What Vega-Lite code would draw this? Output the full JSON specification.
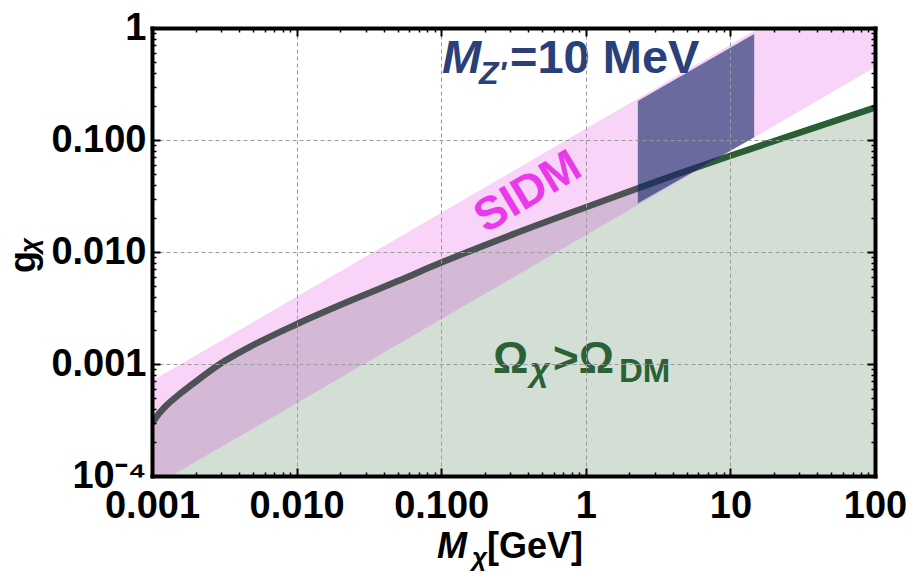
{
  "$schema": "https://vega.github.io/schema/vega-lite/v6.json",
  "width": 723,
  "height": 448,
  "autosize": {"type": "none"},
  "padding": {"left": 152, "top": 28, "right": 34, "bottom": 96},
  "background": "white",
  "datasets": {
    "relic": [
      {"x": 0.001, "y": 0.000295},
      {"x": 0.001122, "y": 0.000363},
      {"x": 0.001259, "y": 0.000427},
      {"x": 0.001585, "y": 0.00055},
      {"x": 0.001995, "y": 0.000692},
      {"x": 0.002951, "y": 0.001},
      {"x": 0.004786, "y": 0.001429},
      {"x": 0.01, "y": 0.002265},
      {"x": 0.02512, "y": 0.0038},
      {"x": 0.05012, "y": 0.0055},
      {"x": 0.1, "y": 0.00804},
      {"x": 0.3162, "y": 0.01445},
      {"x": 1, "y": 0.0251},
      {"x": 2.323, "y": 0.0373},
      {"x": 3.981, "y": 0.0479},
      {"x": 10, "y": 0.0724},
      {"x": 31.62, "y": 0.1189},
      {"x": 100, "y": 0.195}
    ],
    "sidm": [
      {"x": 0.001, "lo": 0.0000794, "hi": 0.000708},
      {"x": 100, "lo": 0.447, "hi": 3.98}
    ],
    "zprime": [
      {"x": 2.29, "lo": 0.0272, "hi": 0.223},
      {"x": 14.6, "lo": 0.1057, "hi": 0.884}
    ],
    "lblM": [{"x": 0.1013, "y": 0.396, "t": "M"}],
    "lblZ": [{"x": 0.1825, "y": 0.316, "t": "Z'"}],
    "lblMeV": [{"x": 0.299, "y": 0.396, "t": "=10 MeV"}],
    "lblSIDM": [{"x": 0.398, "y": 0.0343, "t": "SIDM"}],
    "lblOmega": [{"x": 0.2281, "y": 0.000831, "t": "Ω"}, {"x": 0.593, "y": 0.000831, "t": ">Ω"}],
    "lblChi": [{"x": 0.411, "y": 0.000705, "t": "χ"}],
    "lblDM": [{"x": 1.697, "y": 0.00069, "t": "DM"}],
    "xtM": [{"x": 0.0935, "y": 0.00001853, "t": "M"}],
    "xtChi": [{"x": 0.1633, "y": 0.0000157, "t": "χ"}],
    "xtGeV": [{"x": 0.2075, "y": 0.00001853, "t": "[GeV]"}],
    "ytG": [{"x": 0.0001552, "y": 0.00649, "t": "g"}],
    "ytChi": [{"x": 0.000163, "y": 0.0098, "t": "χ"}]
  },
  "layer": [
    {
      "data": {"name": "relic"},
      "mark": {"type": "area", "color": "#d3ded5", "clip": true},
      "encoding": {
        "x": {"field": "x", "type": "quantitative", "scale": {"type": "log", "domain": [0.001, 100]},
          "axis": {"orient": "bottom", "values": [0.001, 0.01, 0.1, 1, 10, 100],
            "labelExpr": "datum.value < 0.0015 ? '0.001' : datum.value < 0.015 ? '0.010' : datum.value < 0.15 ? '0.100' : datum.value < 1.5 ? '1' : datum.value < 15 ? '10' : '100'",
            "labelFont": "Liberation Sans", "labelFontSize": 38, "labelFontWeight": "bold", "labelColor": "black",
            "labelPadding": 19, "labelOverlap": false, "labelFlush": false, "labelBound": false,
            "tickSize": -8, "tickWidth": 2, "tickColor": "black",
            "domain": true, "domainColor": "black", "domainWidth": 4, "domainCap": "square",
            "grid": true, "gridColor": "#9a9a9a", "gridDash": [4, 3], "gridWidth": 1,
            "title": null, "zindex": 1}},
        "y": {"field": "y", "type": "quantitative", "scale": {"type": "log", "domain": [0.0001, 1]},
          "axis": {"orient": "left", "values": [0.0001, 0.001, 0.01, 0.1, 1],
            "labelExpr": "datum.value < 0.00015 ? '10⁻⁴' : datum.value < 0.0015 ? '0.001' : datum.value < 0.015 ? '0.010' : datum.value < 0.15 ? '0.100' : '1'",
            "labelFont": "Liberation Sans", "labelFontSize": 38, "labelFontWeight": "bold", "labelColor": "black",
            "labelPadding": 14, "labelOverlap": false, "labelFlush": false, "labelBound": false,
            "tickSize": -8, "tickWidth": 2, "tickColor": "black",
            "domain": true, "domainColor": "black", "domainWidth": 4, "domainCap": "square",
            "grid": true, "gridColor": "#9a9a9a", "gridDash": [4, 3], "gridWidth": 1,
            "title": null, "zindex": 1}},
        "y2": {"datum": 0.0001}
      }
    },
    {
      "data": {"name": "relic"},
      "mark": {"type": "line", "color": "#2a5e34", "strokeWidth": 6.5, "clip": true, "interpolate": "monotone"},
      "encoding": {
        "x": {"field": "x", "type": "quantitative", "scale": {"type": "log", "domain": [0.001, 100]},
          "axis": {"orient": "top", "values": [0.001, 0.01, 0.1, 1, 10, 100], "labels": false,
            "tickSize": -8, "tickWidth": 2, "tickColor": "black",
            "domain": true, "domainColor": "black", "domainWidth": 4, "domainCap": "square",
            "grid": false, "title": null, "zindex": 1}},
        "y": {"field": "y", "type": "quantitative", "scale": {"type": "log", "domain": [0.0001, 1]},
          "axis": {"orient": "right", "values": [0.0001, 0.001, 0.01, 0.1, 1], "labels": false,
            "tickSize": -8, "tickWidth": 2, "tickColor": "black",
            "domain": true, "domainColor": "black", "domainWidth": 4, "domainCap": "square",
            "grid": false, "title": null, "zindex": 1}}
      }
    },
    {
      "data": {"name": "sidm"},
      "mark": {"type": "area", "color": "#dc28dc", "opacity": 0.2, "clip": true},
      "encoding": {
        "x": {"field": "x", "type": "quantitative", "scale": {"type": "log", "domain": [0.001, 100]},
          "axis": {"orient": "bottom", "values": [0.002,0.003,0.004,0.005,0.006,0.007,0.008,0.009,0.02,0.03,0.04,0.05,0.06,0.07,0.08,0.09,0.2,0.3,0.4,0.5,0.6,0.7,0.8,0.9,2,3,4,5,6,7,8,9,20,30,40,50,60,70,80,90],
            "labels": false, "tickSize": -4, "tickWidth": 1.5, "tickColor": "black",
            "domain": false, "grid": false, "title": null, "zindex": 1}},
        "y": {"field": "lo", "type": "quantitative", "scale": {"type": "log", "domain": [0.0001, 1]},
          "axis": {"orient": "left", "values": [0.0002,0.0003,0.0004,0.0005,0.0006,0.0007,0.0008,0.0009,0.002,0.003,0.004,0.005,0.006,0.007,0.008,0.009,0.02,0.03,0.04,0.05,0.06,0.07,0.08,0.09,0.2,0.3,0.4,0.5,0.6,0.7,0.8,0.9],
            "labels": false, "tickSize": -4, "tickWidth": 1.5, "tickColor": "black",
            "domain": false, "grid": false, "title": null, "zindex": 1}},
        "y2": {"field": "hi"}
      }
    },
    {
      "data": {"name": "zprime"},
      "mark": {"type": "area", "color": "#0c2362", "opacity": 0.6, "clip": true},
      "encoding": {
        "x": {"field": "x", "type": "quantitative", "scale": {"type": "log", "domain": [0.001, 100]},
          "axis": {"orient": "top", "values": [0.002,0.003,0.004,0.005,0.006,0.007,0.008,0.009,0.02,0.03,0.04,0.05,0.06,0.07,0.08,0.09,0.2,0.3,0.4,0.5,0.6,0.7,0.8,0.9,2,3,4,5,6,7,8,9,20,30,40,50,60,70,80,90],
            "labels": false, "tickSize": -4, "tickWidth": 1.5, "tickColor": "black",
            "domain": false, "grid": false, "title": null, "zindex": 1}},
        "y": {"field": "lo", "type": "quantitative", "scale": {"type": "log", "domain": [0.0001, 1]},
          "axis": {"orient": "right", "values": [0.0002,0.0003,0.0004,0.0005,0.0006,0.0007,0.0008,0.0009,0.002,0.003,0.004,0.005,0.006,0.007,0.008,0.009,0.02,0.03,0.04,0.05,0.06,0.07,0.08,0.09,0.2,0.3,0.4,0.5,0.6,0.7,0.8,0.9],
            "labels": false, "tickSize": -4, "tickWidth": 1.5, "tickColor": "black",
            "domain": false, "grid": false, "title": null, "zindex": 1}},
        "y2": {"field": "hi"}
      }
    },
    {
      "data": {"name": "lblM"},
      "mark": {"type": "text", "font": "Liberation Sans", "fontSize": 47, "fontWeight": "bold", "fontStyle": "italic", "color": "#2b3f7a", "align": "left", "baseline": "alphabetic"},
      "encoding": {
        "x": {"field": "x", "type": "quantitative", "axis": null},
        "y": {"field": "y", "type": "quantitative", "axis": null},
        "text": {"field": "t"}
      }
    },
    {
      "data": {"name": "lblZ"},
      "mark": {"type": "text", "font": "Liberation Sans", "fontSize": 32, "fontWeight": "bold", "fontStyle": "italic", "color": "#2b3f7a", "align": "left", "baseline": "alphabetic"},
      "encoding": {
        "x": {"field": "x", "type": "quantitative", "axis": null},
        "y": {"field": "y", "type": "quantitative", "axis": null},
        "text": {"field": "t"}
      }
    },
    {
      "data": {"name": "lblMeV"},
      "mark": {"type": "text", "font": "Liberation Sans", "fontSize": 47, "fontWeight": "bold", "color": "#2b3f7a", "align": "left", "baseline": "alphabetic"},
      "encoding": {
        "x": {"field": "x", "type": "quantitative", "axis": null},
        "y": {"field": "y", "type": "quantitative", "axis": null},
        "text": {"field": "t"}
      }
    },
    {
      "data": {"name": "lblSIDM"},
      "mark": {"type": "text", "font": "Liberation Sans", "fontSize": 46, "fontWeight": "bold", "color": "#e83ae8", "align": "center", "baseline": "middle", "angle": 329},
      "encoding": {
        "x": {"field": "x", "type": "quantitative", "axis": null},
        "y": {"field": "y", "type": "quantitative", "axis": null},
        "text": {"field": "t"}
      }
    },
    {
      "data": {"name": "lblOmega"},
      "mark": {"type": "text", "font": "Liberation Sans", "fontSize": 44, "fontWeight": "bold", "color": "#2a6236", "align": "left", "baseline": "alphabetic"},
      "encoding": {
        "x": {"field": "x", "type": "quantitative", "axis": null},
        "y": {"field": "y", "type": "quantitative", "axis": null},
        "text": {"field": "t"}
      }
    },
    {
      "data": {"name": "lblChi"},
      "mark": {"type": "text", "font": "Liberation Sans", "fontSize": 34, "fontWeight": "bold", "fontStyle": "italic", "color": "#2a6236", "align": "left", "baseline": "alphabetic"},
      "encoding": {
        "x": {"field": "x", "type": "quantitative", "axis": null},
        "y": {"field": "y", "type": "quantitative", "axis": null},
        "text": {"field": "t"}
      }
    },
    {
      "data": {"name": "lblDM"},
      "mark": {"type": "text", "font": "Liberation Sans", "fontSize": 33, "fontWeight": "bold", "color": "#2a6236", "align": "left", "baseline": "alphabetic"},
      "encoding": {
        "x": {"field": "x", "type": "quantitative", "axis": null},
        "y": {"field": "y", "type": "quantitative", "axis": null},
        "text": {"field": "t"}
      }
    },
    {
      "data": {"name": "xtM"},
      "mark": {"type": "text", "font": "Liberation Sans", "fontSize": 36, "fontWeight": "bold", "fontStyle": "italic", "color": "black", "align": "left", "baseline": "alphabetic"},
      "encoding": {
        "x": {"field": "x", "type": "quantitative", "axis": null},
        "y": {"field": "y", "type": "quantitative", "axis": null},
        "text": {"field": "t"}
      }
    },
    {
      "data": {"name": "xtChi"},
      "mark": {"type": "text", "font": "Liberation Sans", "fontSize": 26, "fontWeight": "bold", "fontStyle": "italic", "color": "black", "align": "left", "baseline": "alphabetic"},
      "encoding": {
        "x": {"field": "x", "type": "quantitative", "axis": null},
        "y": {"field": "y", "type": "quantitative", "axis": null},
        "text": {"field": "t"}
      }
    },
    {
      "data": {"name": "xtGeV"},
      "mark": {"type": "text", "font": "Liberation Sans", "fontSize": 36, "fontWeight": "bold", "color": "black", "align": "left", "baseline": "alphabetic"},
      "encoding": {
        "x": {"field": "x", "type": "quantitative", "axis": null},
        "y": {"field": "y", "type": "quantitative", "axis": null},
        "text": {"field": "t"}
      }
    },
    {
      "data": {"name": "ytG"},
      "mark": {"type": "text", "font": "Liberation Sans", "fontSize": 36, "fontWeight": "bold", "color": "black", "align": "left", "baseline": "alphabetic", "angle": 270},
      "encoding": {
        "x": {"field": "x", "type": "quantitative", "axis": null},
        "y": {"field": "y", "type": "quantitative", "axis": null},
        "text": {"field": "t"}
      }
    },
    {
      "data": {"name": "ytChi"},
      "mark": {"type": "text", "font": "Liberation Sans", "fontSize": 26, "fontWeight": "bold", "fontStyle": "italic", "color": "black", "align": "left", "baseline": "alphabetic", "angle": 270},
      "encoding": {
        "x": {"field": "x", "type": "quantitative", "axis": null},
        "y": {"field": "y", "type": "quantitative", "axis": null},
        "text": {"field": "t"}
      }
    }
  ],
  "config": {
    "view": {"stroke": null},
    "font": "Liberation Sans"
  }
}
